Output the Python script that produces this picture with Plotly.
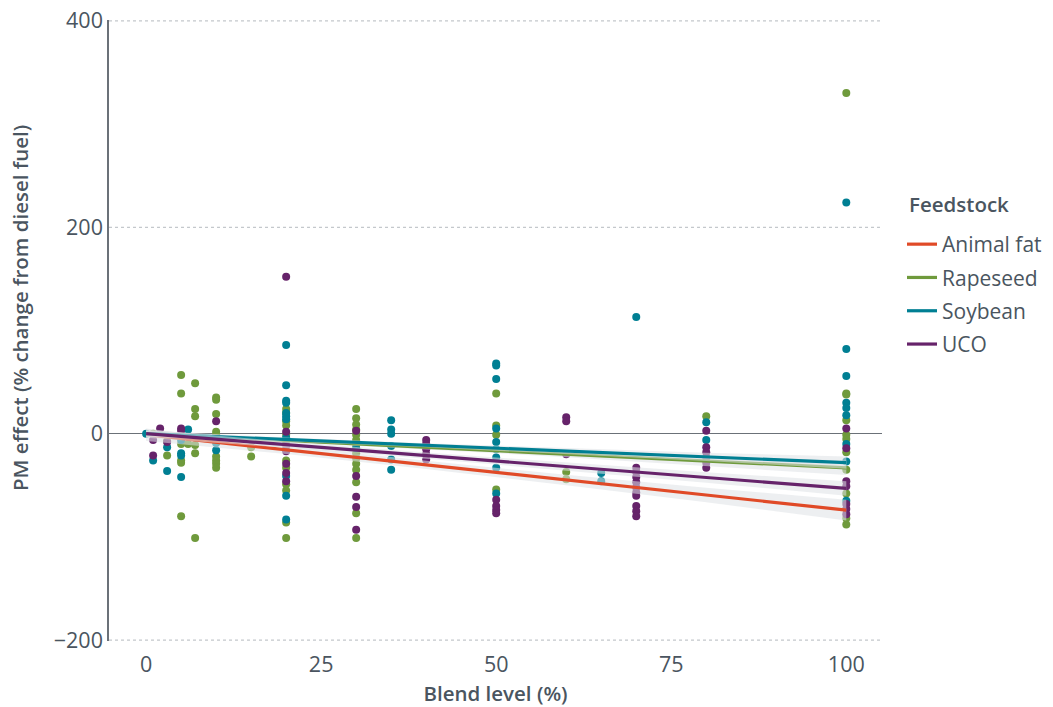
import plotly.graph_objects as go

# ---------------- data ----------------
feedstocks = ["Animal fat", "Rapeseed", "Soybean", "UCO"]
colors = {"Animal fat": "#E04A27", "Rapeseed": "#6F9A3C", "Soybean": "#007F93", "UCO": "#66236A"}

rapeseed_x = [1, 3, 3, 5, 5, 5, 5, 5, 5, 6, 7, 7, 7, 7, 7, 7,
              10, 10, 10, 10, 10, 10, 10, 10, 10, 10, 15, 15,
              20, 20, 20, 20, 20, 20, 20, 20, 20, 20, 20, 20,
              30, 30, 30, 30, 30, 30, 30, 30, 30, 30, 30, 30, 30, 30,
              50, 50, 50, 50, 60, 60, 80,
              100, 100, 100, 100, 100, 100, 100, 100, 100, 100, 100]
rapeseed_y = [0, -7, -21, 57, 39, -10, -26, -28, -80, -10, 49, 24, 17, -11, -19, -101,
              35, 33, 19, 2, -1, -6, -22, -26, -29, -33, -13, -22,
              24, 8, -1, -7, -26, -33, -49, -55, -86, -101, 20, 12,
              24, 15, 9, -1, -6, -11, -19, -24, -29, -35, -47, -77, -101, 4,
              39, 8, -1, -54, -37, -44, 17,
              330, 39, 38, 13, -1, -5, -18, -35, -58, -82, -88]

soybean_x = [0, 1, 3, 3, 5, 5, 5, 5, 6, 10, 10,
             20, 20, 20, 20, 20, 20, 20, 20, 20, 20, 20,
             30, 35, 35, 35, 35, 35, 35,
             50, 50, 50, 50, 50, 50, 50, 50, 50,
             65, 65, 70, 80, 80,
             100, 100, 100, 100, 100, 100, 100, 100, 100]
soybean_y = [0, -26, -13, -36, -6, -19, -21, -42, 4, -9, -16,
             86, 47, 32, 30, 20, 17, 14, -4, -41, -60, -83,
             -14, 13, 4, 0, -12, -25, -35,
             68, 53, 5, -8, -15, -23, -33, -58, 66,
             -38, -46, 113, 11, -6,
             224, 82, 56, 30, 25, 18, -10, -27, -65]

uco_x = [1, 1, 2, 3, 5, 5, 10,
         20, 20, 20, 20, 20, 20, 20,
         30, 30, 30, 30, 30,
         40, 40, 40, 40, 40,
         50, 50, 50, 50, 60, 60, 60,
         70, 70, 70, 70, 70, 70, 70, 70, 70, 70,
         80, 80, 80, 80, 80, 80,
         100, 100, 100, 100, 100, 100, 100]
uco_y = [-6, -21, 5, -8, 5, 3, 12,
         152, 2, -12, -17, -29, -38, -46,
         3, -41, -61, -71, -93,
         -6, -10, -15, -20, -25,
         -64, -70, -74, -77, 16, 12, -20,
         -33, -37, -42, -47, -52, -57, -60, -70, -75, -80,
         3, -13, -18, -23, -28, -33,
         5, -14, -46, -51, -68, -73, -78]

points = {
    "Rapeseed": (rapeseed_x, rapeseed_y),
    "Soybean": (soybean_x, soybean_y),
    "UCO": (uco_x, uco_y),
}

# fitted trend lines (linear smooth): value at blend 0 and 100
fit_x = [0, 100]
fit_y = {
    "Animal fat": [-1, -74],
    "Rapeseed": [0, -33],
    "Soybean": [0, -28],
    "UCO": [0, -53],
}
# confidence band half-widths at the band nodes
band_x = [0, 20, 40, 60, 80, 100]
band_half = {
    "Animal fat": [6, 4, 4, 5, 7, 10],
    "Rapeseed": [3, 2, 2, 3, 5, 7],
    "Soybean": [3, 2, 2, 3, 4, 6],
    "UCO": [4, 3, 3, 4, 5, 7],
}

x_ticks = [0, 25, 50, 75, 100]
y_ticks = [-200, 0, 200, 400]

# ---------------- figure ----------------
FONT = "Open Sans"
TXT = "#4a5560"
fig = go.Figure()

# dotted horizontal gridlines (non-zero ticks)
for yt in y_ticks:
    if yt != 0:
        fig.add_shape(type="line", xref="paper", yref="y", x0=0, x1=1, y0=yt, y1=yt,
                      line=dict(color="#c4c8cc", width=1.3, dash="dot"), layer="below")

for name in ["Rapeseed", "Soybean", "UCO"]:
    xs, ys = points[name]
    fig.add_trace(go.Scatter(
        x=xs, y=ys, mode="markers", name=name, showlegend=False,
        marker=dict(size=8, color=colors[name], line=dict(width=0)),
        hoverinfo="skip"))

for name in feedstocks:
    y0, y1 = fit_y[name]
    slope = (y1 - y0) / (fit_x[1] - fit_x[0])
    centre = [y0 + slope * (bx - fit_x[0]) for bx in band_x]
    upper = [c + h for c, h in zip(centre, band_half[name])]
    lower = [c - h for c, h in zip(centre, band_half[name])]
    fig.add_trace(go.Scatter(
        x=band_x + band_x[::-1], y=upper + lower[::-1],
        fill="toself", fillcolor="rgba(222,225,229,0.55)",
        line=dict(width=0), mode="lines", showlegend=False, hoverinfo="skip"))
    fig.add_trace(go.Scatter(
        x=fit_x, y=fit_y[name], mode="lines", name=name,
        legendgroup=name,
        line=dict(color=colors[name], width=3.2)))

# page body margin is removed (post_script), so the figure fills the window
W, H = 1053, 707
PL, PR, PT, PB = 109, 882, 20, 641

fig.add_annotation(
    text="Feedstock", xref="paper", yref="paper",
    x=(907 - 109) / 773, y=(641 - 204) / 621, xanchor="left", yanchor="middle",
    showarrow=False, font=dict(family=FONT, size=20.5, color=TXT, weight=600))

fig.add_annotation(
    text="PM effect (% change from diesel fuel)", xref="paper", yref="paper",
    x=(20 - 109) / 773, y=(641 - 308) / 621, xanchor="center", yanchor="middle",
    textangle=-90, showarrow=False,
    font=dict(family=FONT, size=20.5, color=TXT, weight=600))

fig.update_layout(
    width=W, height=H,
    margin=dict(l=PL, r=W - PR, t=PT, b=H - PB, autoexpand=False),
    paper_bgcolor="white", plot_bgcolor="white",
    font=dict(family=FONT, size=21, color=TXT),
    legend=dict(
        x=(902 - 109) / 773, xanchor="left", y=(641 - 224) / 621, yanchor="top",
        font=dict(size=21, color=TXT), tracegroupgap=3,
        itemwidth=30, bgcolor="rgba(0,0,0,0)"),
    xaxis=dict(
        range=[-5.3, 105.1], tickvals=x_ticks, showgrid=False, zeroline=False,
        showline=False, ticks="", tickfont=dict(size=21.5, color=TXT),
        ticklabelstandoff=8, automargin=False, ticklabeloverflow="allow",
        title=dict(text="Blend level (%)", font=dict(size=20.5, color=TXT, weight=600), standoff=10)),
    yaxis=dict(
        range=[-200.8, 400.8], tickvals=y_ticks, showgrid=False,
        zeroline=True, zerolinecolor="#6b7178", zerolinewidth=1.3,
        showline=True, linecolor="#6b7178", linewidth=1.5, ticks="",
        tickfont=dict(size=21.5, color=TXT), automargin=False,
        ticklabeloverflow="allow"),
)

fig.write_html("out.html",
               config={"displayModeBar": False},
               post_script="document.body.style.margin='0';document.body.style.overflow='hidden';")
